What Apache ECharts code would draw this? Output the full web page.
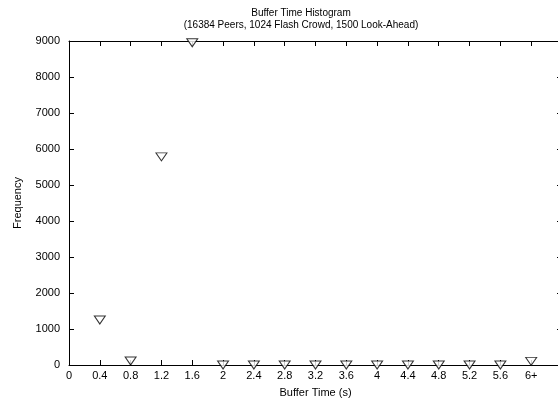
<!DOCTYPE html>
<html>
<head>
<meta charset="utf-8">
<script src="https://cdn.jsdelivr.net/npm/echarts@6/dist/echarts.min.js"></script>
<style>
  html, body { margin: 0; padding: 0; background: #fff; }
  #chart { width: 558px; height: 401px; }
</style>
</head>
<body>
<div id="chart"></div>
<script>
// buffer time bins (s), last one is "6+"
var bufferTimes = [0.4, 0.8, 1.2, 1.6, 2.0, 2.4, 2.8, 3.2, 3.6, 4.0, 4.4, 4.8, 5.2, 5.6, 6.0];
var frequencies = [1250, 110, 5780, 8950, 0, 0, 0, 0, 0, 0, 0, 0, 0, 0, 100];
var xTickLabels = ['0', '0.4', '0.8', '1.2', '1.6', '2', '2.4', '2.8', '3.2', '3.6', '4', '4.4', '4.8', '5.2', '5.6', '6+', ''];

var font = 'Liberation Sans, Arial, sans-serif';
var chart = echarts.init(document.getElementById('chart'));

var points = bufferTimes.map(function (t, i) { return [t, frequencies[i]]; });

var tickStyle = { show: true, inside: true, length: 5, lineStyle: { color: '#000', width: 1 } };
var lineStyle = { show: true, onZero: false, lineStyle: { color: '#000', width: 1 } };

chart.setOption({
  animation: false,
  title: {
    text: 'Buffer Time Histogram\n(16384 Peers, 1024 Flash Crowd, 1500 Look-Ahead)',
    left: 301, top: 7, padding: 0, textAlign: 'center',
    textStyle: { fontFamily: font, fontSize: 10, fontWeight: 'normal', color: '#000', lineHeight: 12 }
  },
  grid: { left: 69, top: 41, width: 493, height: 324, outerBoundsMode: 'none', containLabel: false },
  xAxis: [{
    type: 'value', min: 0, max: 6.4, interval: 0.4,
    name: 'Buffer Time (s)', nameLocation: 'middle', nameGap: 22,
    nameTextStyle: { fontFamily: font, fontSize: 11, color: '#000' },
    axisLine: lineStyle, axisTick: tickStyle, splitLine: { show: false },
    axisLabel: {
      fontFamily: font, fontSize: 11, color: '#000', margin: 5,
      formatter: function (v) { return xTickLabels[Math.round(v / 0.4)]; }
    }
  }, {
    type: 'value', position: 'top', min: 0, max: 6.4, interval: 0.4,
    axisLine: lineStyle, axisTick: tickStyle, axisLabel: { show: false }, splitLine: { show: false }
  }],
  yAxis: [{
    type: 'value', min: 0, max: 9000, interval: 1000,
    name: 'Frequency', nameLocation: 'middle', nameGap: 46, nameRotate: 90,
    nameTextStyle: { fontFamily: font, fontSize: 11, color: '#000' },
    axisLine: lineStyle, axisTick: tickStyle, splitLine: { show: false },
    axisLabel: {
      fontFamily: font, fontSize: 11, color: '#000', margin: 9,
      formatter: function (v) { return String(v); }
    }
  }, {
    type: 'value', position: 'right', min: 0, max: 9000, interval: 1000,
    axisLine: lineStyle, axisTick: tickStyle, axisLabel: { show: false }, splitLine: { show: false }
  }],
  series: [{
    type: 'scatter',
    data: points,
    symbol: 'triangle',
    symbolRotate: 180,
    symbolSize: [11, 8],
    itemStyle: { color: '#fff', borderColor: '#000', borderWidth: 1 },
    z: 5
  }]
});
</script>
</body>
</html>
